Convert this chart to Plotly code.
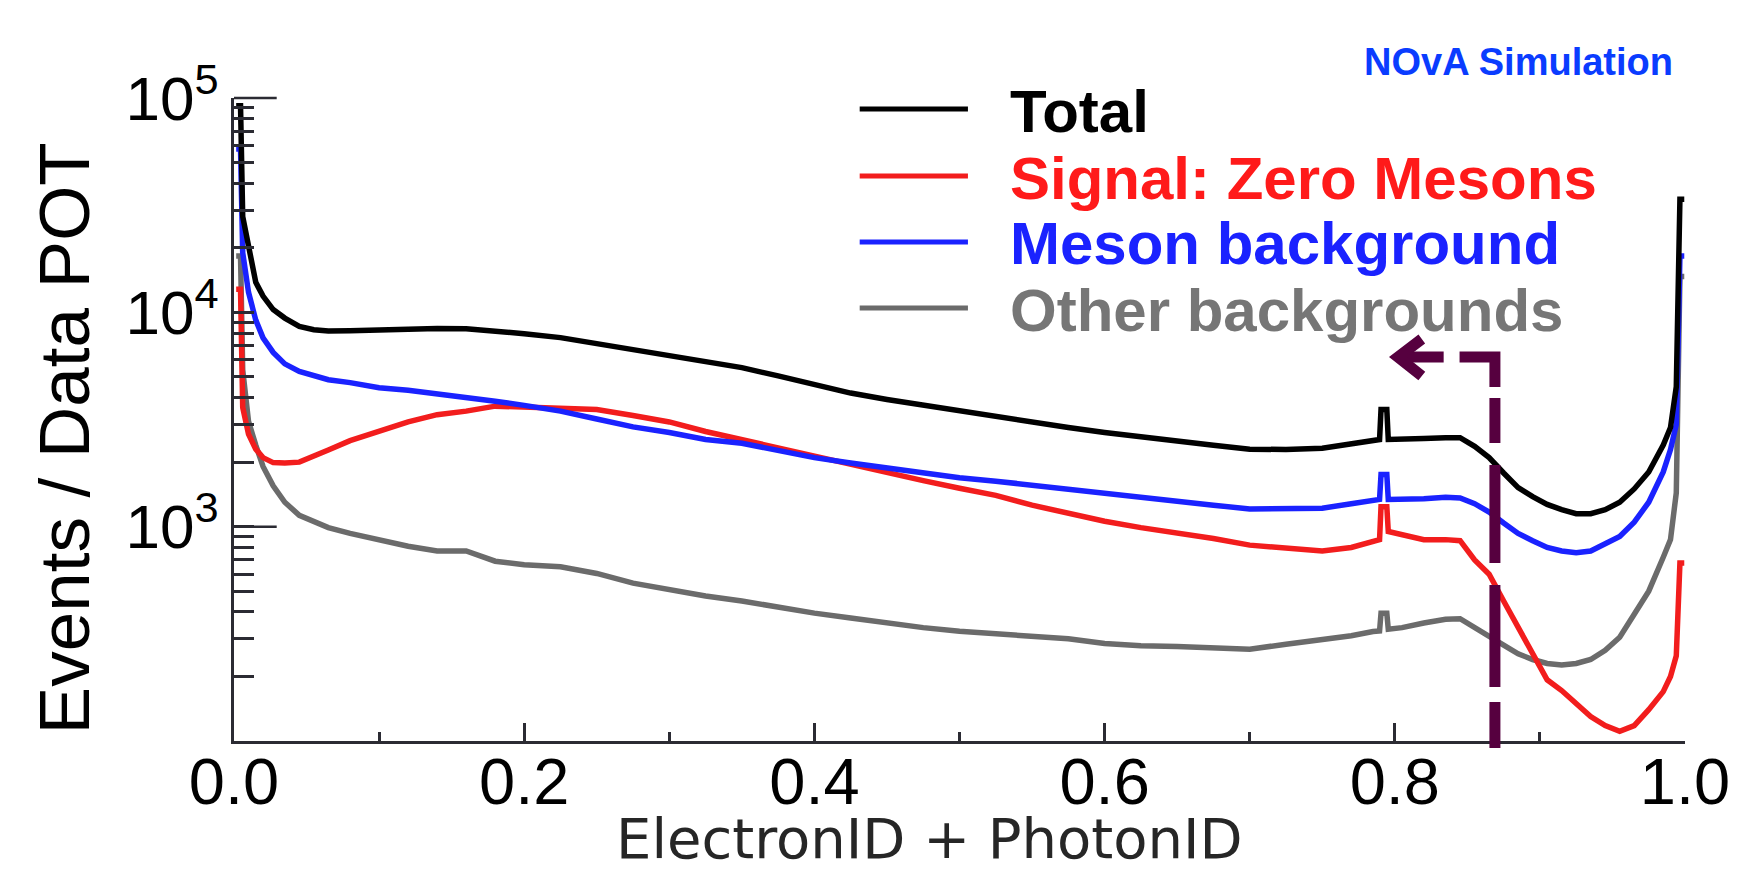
import plotly.graph_objects as go

# ---------------- data ----------------
x_bins = [0.0015, 0.0045, 0.006, 0.01, 0.015, 0.02, 0.027, 0.035, 0.045, 0.055,
          0.065, 0.08, 0.1, 0.12, 0.14, 0.16, 0.18, 0.2, 0.225, 0.25,
          0.275, 0.3, 0.325, 0.35, 0.375, 0.4, 0.425, 0.45, 0.475, 0.5,
          0.525, 0.55, 0.575, 0.6, 0.625, 0.65, 0.675, 0.7, 0.725, 0.75,
          0.77, 0.785, 0.7895, 0.7905, 0.7945, 0.7955, 0.805, 0.82, 0.835, 0.845,
          0.855, 0.865, 0.875, 0.885, 0.895, 0.905, 0.915, 0.925, 0.935, 0.945,
          0.955, 0.965, 0.975, 0.985, 0.99, 0.994, 0.9965, 0.9995]

total = [92000, 92000, 28000, 20000, 13800, 11900, 10300, 9400, 8600, 8300,
         8180, 8200, 8300, 8340, 8400, 8390, 8200, 7950, 7620, 7150,
         6700, 6260, 5850, 5520, 5050, 4600, 4200, 3920, 3680, 3460,
         3260, 3070, 2900, 2750, 2620, 2520, 2400, 2300, 2290, 2320,
         2450, 2530, 2550, 3520, 3520, 2550, 2550, 2580, 2600, 2600,
         2370, 2100, 1780, 1520, 1380, 1270, 1200, 1150, 1150, 1200,
         1300, 1500, 1800, 2400, 2900, 4500, 33700, 33700]

signal = [12800, 12800, 3600, 2700, 2300, 2100, 1990, 1980, 2000, 2120,
          2280, 2520, 2800, 3080, 3330, 3460, 3650, 3620, 3600, 3520,
          3300, 3080, 2780, 2540, 2330, 2140, 1950, 1780, 1640, 1510,
          1400, 1260, 1150, 1060, 990, 940, 880, 820, 790, 770,
          800, 860, 870, 1240, 1240, 950, 920, 870, 870, 860,
          700, 600, 450, 340, 250, 193, 172, 150, 130, 118,
          111, 118, 140, 170, 200, 250, 676, 676]

meson_bkg = [57800, 57800, 19000, 12400, 9200, 7600, 6500, 5750, 5300, 5040,
             4850, 4700, 4450, 4330, 4180, 4000, 3850, 3680, 3460, 3180,
             2920, 2750, 2550, 2450, 2270, 2100, 1980, 1870, 1770, 1690,
             1630, 1560, 1490, 1420, 1360, 1300, 1260, 1210, 1210, 1220,
             1280, 1330, 1340, 1750, 1750, 1340, 1340, 1350, 1370, 1360,
             1280, 1170, 1040, 930, 860, 800, 770, 755, 770, 830,
             900, 1050, 1300, 1800, 2290, 3000, 18300, 18300]

other_bkg = [18300, 18300, 5400, 3100, 2400, 1910, 1550, 1300, 1130, 1050,
             990, 930, 870, 810, 770, 770, 690, 665, 650, 605,
             545, 505, 475, 450, 420, 395, 375, 355, 338, 325,
             315, 308, 300, 285, 278, 276, 272, 268, 283, 297,
             310, 324, 326, 395, 395, 332, 338, 355, 370, 372,
             340, 310, 280, 255, 240, 230, 226, 230, 240, 265,
             305, 390, 500, 720, 870, 1440, 14700, 14700]

legend_labels = ["Total", "Signal: Zero Mesons", "Meson background", "Other backgrounds"]
x_tick_vals = [0.0, 0.2, 0.4, 0.6, 0.8, 1.0]
x_tick_text = ["0.0", "0.2", "0.4", "0.6", "0.8", "1.0"]
x_minor_vals = [0.1, 0.3, 0.5, 0.7, 0.9]
y_tick_vals = [1e3, 1e4, 1e5]
y_tick_text = ["10<sup>3</sup>", "10<sup>4</sup>", "10<sup>5</sup>"]
y_minor_vals = [m * 10 ** e for e in (2, 3, 4) for m in range(2, 10)]
cut_value = 0.869

# ---------------- styling ----------------
W, H = 1742, 874
L, R, T, B = 234, 1695, 98, 741
col_total = "#000000"
col_signal = "#f21d1d"
col_meson = "#1a22ff"
col_other = "#6b6b6b"
col_cut = "#56003f"
axis_col = "#2b2b33"


def px(xp):
    return (xp - L) / (R - L)


def py(yp):
    return (B - yp) / (B - T)


fig = go.Figure()
for name, vals, col in [(legend_labels[3], other_bkg, col_other),
                        (legend_labels[1], signal, col_signal),
                        (legend_labels[2], meson_bkg, col_meson),
                        (legend_labels[0], total, col_total)]:
    fig.add_trace(go.Scatter(x=x_bins, y=vals, mode="lines", name=name,
                             line=dict(color=col, width=5.5), showlegend=False))

fig.update_layout(
    width=W, height=H,
    margin=dict(l=L, r=W - R, t=T, b=H - B),
    paper_bgcolor="white", plot_bgcolor="white",
    font=dict(family="Liberation Sans, Arial, sans-serif", color="black"),
)

fig.update_xaxes(
    range=[0, 1], showgrid=False, zeroline=False,
    showline=True, linecolor=axis_col, linewidth=3,
    ticks="inside", ticklen=18, tickwidth=2.5, tickcolor=axis_col,
    tickmode="array", tickvals=x_tick_vals, ticktext=x_tick_text,
    tickfont=dict(size=65, family="Liberation Sans, Arial"),
    ticklabelstandoff=-18,
    minor=dict(tickmode="array", tickvals=x_minor_vals, ticks="inside",
               ticklen=9, tickwidth=2.5, tickcolor=axis_col),
)
fig.update_yaxes(
    type="log", range=[2, 5], showgrid=False, zeroline=False,
    showline=True, linecolor=axis_col, linewidth=3,
    ticks="inside", ticklen=20, tickwidth=2.5, tickcolor=axis_col,
    tickmode="array", tickvals=y_tick_vals, ticktext=y_tick_text,
    tickfont=dict(size=62, family="Liberation Sans, Arial"),
    ticklabelstandoff=0,
    minor=dict(tickmode="array", tickvals=y_minor_vals, ticks="inside",
               ticklen=20, tickwidth=2.5, tickcolor=axis_col),
)

shapes = []
# long major ticks at 10^3 and 10^5
for yv in (1 / 3, 1.0):
    shapes.append(dict(type="line", xref="paper", yref="paper",
                       x0=0, x1=px(277), y0=yv, y1=yv,
                       line=dict(color=axis_col, width=2.5)))

# cut line: L-shaped dashed piece + dashes
yc = py(357)
shapes.append(dict(type="path", xref="paper", yref="paper",
                   path=f"M {px(1468)},{yc} L {cut_value},{yc} L {cut_value},{py(387)}",
                   line=dict(color=col_cut, width=11)))
for y0p, y1p in [(398, 443), (465, 563), (585, 687), (702, 748)]:
    shapes.append(dict(type="line", xref="paper", yref="paper",
                       x0=cut_value, x1=cut_value, y0=py(y0p), y1=py(y1p),
                       line=dict(color=col_cut, width=11)))
# arrow shaft + head
shapes.append(dict(type="line", xref="paper", yref="paper",
                   x0=px(1412), x1=px(1452), y0=yc, y1=yc,
                   line=dict(color=col_cut, width=11)))
shapes.append(dict(type="path", xref="paper", yref="paper",
                   path=f"M {px(1430)},{py(339)} L {px(1406)},{yc} L {px(1430)},{py(376)}",
                   line=dict(color=col_cut, width=11)))

# legend
leg_rows = [109, 176, 242, 308]
leg_cols = [col_total, "#ff1a1a", col_meson, "#767676"]
line_cols = [col_total, col_signal, col_meson, col_other]
annotations = []
for lab, yr, tc, lc in zip(legend_labels, leg_rows, leg_cols, line_cols):
    shapes.append(dict(type="line", xref="paper", yref="paper",
                       x0=px(864), x1=px(973), y0=py(yr), y1=py(yr),
                       line=dict(color=lc, width=5)))
    annotations.append(dict(xref="paper", yref="paper", x=px(1013), y=py(yr + 2),
                            xanchor="left", yanchor="middle", showarrow=False,
                            text=f"<b>{lab}</b>",
                            font=dict(size=60, color=tc, family="Liberation Sans, Arial")))

annotations.append(dict(xref="paper", yref="paper", x=px(1527), y=py(62),
                        xanchor="center", yanchor="middle", showarrow=False,
                        text="<b>NOvA Simulation</b>",
                        font=dict(size=38, color="#0a3cff", family="Liberation Sans, Arial")))
annotations.append(dict(xref="paper", yref="paper", x=px(934), y=py(838),
                        xanchor="center", yanchor="middle", showarrow=False,
                        text="ElectronID + PhotonID",
                        font=dict(size=56, color="#262626", family="DejaVu Sans, Verdana")))
annotations.append(dict(xref="paper", yref="paper", x=px(64), y=py(438),
                        xanchor="center", yanchor="middle", showarrow=False,
                        textangle=-90, text="Events / Data POT",
                        font=dict(size=71, color="black", family="Liberation Sans, Arial")))

fig.update_layout(shapes=shapes, annotations=annotations)
fig.write_html("out.html")
